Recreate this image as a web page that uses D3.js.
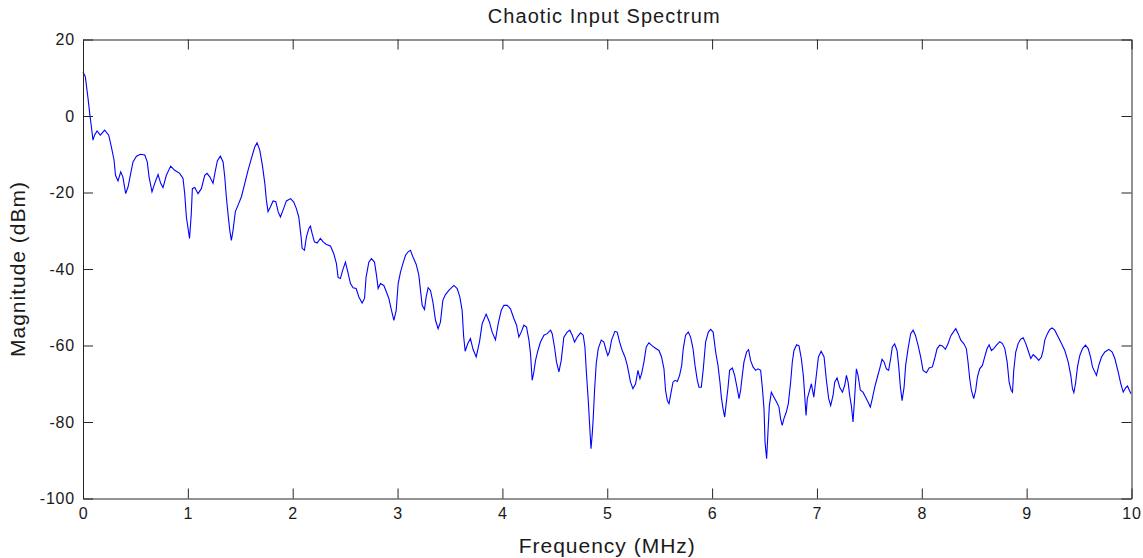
<!DOCTYPE html>
<html>
<head>
<meta charset="utf-8">
<script src="https://cdn.jsdelivr.net/npm/d3@7/dist/d3.min.js"></script>
<style>
  html, body { margin: 0; padding: 0; background: #fff; }
  svg { display: block; font-family: "Liberation Sans", Arial, sans-serif; }
</style>
</head>
<body>
<svg id="chart" width="1143" height="558"></svg>
<script>
// Spectrum samples: frequency (MHz) and magnitude (dBm)
const freqMHz = [
  0, 0.022, 0.048, 0.064, 0.08, 0.095, 0.11, 0.134, 0.165, 0.207, 0.245, 0.27, 0.296, 0.31, 0.334, 0.36, 0.38, 0.407, 0.43, 0.455,
  0.477, 0.51, 0.547, 0.589, 0.613, 0.63, 0.658, 0.684, 0.716, 0.741, 0.763, 0.795, 0.836, 0.875, 0.922, 0.954, 0.97, 0.986, 1.016, 1.033,
  1.043, 1.066, 1.097, 1.129, 1.161, 1.183, 1.209, 1.24, 1.263, 1.282, 1.31, 1.336, 1.352, 1.367, 1.384, 1.4, 1.415, 1.431, 1.453, 1.479,
  1.511, 1.543, 1.574, 1.606, 1.638, 1.66, 1.686, 1.711, 1.734, 1.749, 1.765, 1.787, 1.813, 1.839, 1.861, 1.883, 1.908, 1.94, 1.98, 2.01,
  2.035, 2.058, 2.08, 2.09, 2.112, 2.131, 2.154, 2.169, 2.185, 2.207, 2.233, 2.264, 2.29, 2.322, 2.36, 2.392, 2.417, 2.433, 2.455, 2.477,
  2.503, 2.526, 2.551, 2.576, 2.605, 2.631, 2.662, 2.685, 2.7, 2.726, 2.751, 2.78, 2.799, 2.815, 2.837, 2.869, 2.894, 2.917, 2.939, 2.965,
  2.987, 3.006, 3.028, 3.051, 3.076, 3.101, 3.123, 3.146, 3.178, 3.203, 3.219, 3.235, 3.257, 3.273, 3.292, 3.314, 3.337, 3.362, 3.387, 3.409,
  3.432, 3.457, 3.489, 3.537, 3.569, 3.594, 3.616, 3.63, 3.645, 3.67, 3.695, 3.72, 3.75, 3.782, 3.807, 3.845, 3.877, 3.902, 3.934, 3.96,
  3.989, 4.014, 4.046, 4.077, 4.11, 4.135, 4.157, 4.179, 4.205, 4.23, 4.253, 4.268, 4.284, 4.3, 4.316, 4.339, 4.363, 4.396, 4.427, 4.459,
  4.475, 4.497, 4.516, 4.539, 4.561, 4.586, 4.618, 4.643, 4.666, 4.688, 4.714, 4.745, 4.771, 4.787, 4.802, 4.819, 4.835, 4.845, 4.857, 4.866,
  4.879, 4.895, 4.914, 4.943, 4.968, 4.99, 5.005, 5.02, 5.041, 5.073, 5.095, 5.118, 5.143, 5.169, 5.191, 5.207, 5.222, 5.245, 5.27, 5.293,
  5.312, 5.327, 5.35, 5.372, 5.397, 5.429, 5.46, 5.493, 5.518, 5.541, 5.556, 5.573, 5.589, 5.604, 5.627, 5.646, 5.668, 5.69, 5.71, 5.725,
  5.747, 5.773, 5.795, 5.818, 5.837, 5.859, 5.875, 5.897, 5.916, 5.938, 5.964, 5.986, 6.01, 6.034, 6.056, 6.075, 6.088, 6.104, 6.12, 6.136,
  6.152, 6.167, 6.193, 6.215, 6.234, 6.257, 6.272, 6.288, 6.304, 6.329, 6.348, 6.367, 6.39, 6.415, 6.438, 6.463, 6.479, 6.495, 6.505, 6.52,
  6.533, 6.546, 6.565, 6.59, 6.615, 6.638, 6.653, 6.669, 6.685, 6.708, 6.727, 6.749, 6.765, 6.781, 6.806, 6.829, 6.851, 6.87, 6.883, 6.896,
  6.908, 6.925, 6.947, 6.97, 6.992, 7.014, 7.04, 7.068, 7.09, 7.112, 7.131, 7.154, 7.169, 7.192, 7.217, 7.243, 7.265, 7.281, 7.297, 7.312,
  7.328, 7.344, 7.359, 7.376, 7.392, 7.414, 7.439, 7.464, 7.487, 7.509, 7.528, 7.551, 7.576, 7.598, 7.621, 7.64, 7.662, 7.684, 7.703, 7.719,
  7.741, 7.764, 7.779, 7.796, 7.812, 7.831, 7.846, 7.869, 7.894, 7.917, 7.939, 7.964, 7.989, 8.012, 8.044, 8.07, 8.101, 8.123, 8.146, 8.171,
  8.197, 8.225, 8.251, 8.276, 8.305, 8.324, 8.347, 8.372, 8.4, 8.425, 8.441, 8.457, 8.473, 8.495, 8.514, 8.53, 8.552, 8.578, 8.6, 8.623,
  8.642, 8.664, 8.686, 8.712, 8.744, 8.769, 8.792, 8.814, 8.833, 8.852, 8.865, 8.877, 8.896, 8.919, 8.941, 8.967, 8.992, 9.014, 9.039, 9.062,
  9.087, 9.115, 9.141, 9.157, 9.173, 9.198, 9.221, 9.243, 9.268, 9.301, 9.332, 9.364, 9.396, 9.421, 9.437, 9.45, 9.466, 9.485, 9.507, 9.533,
  9.561, 9.587, 9.609, 9.628, 9.65, 9.666, 9.688, 9.714, 9.746, 9.784, 9.816, 9.841, 9.873, 9.898, 9.921, 9.943, 9.962, 9.979, 9.995
];
const magnitudeDbm = [
  11.5, 10.3, 4.6, 0.7, -2.8, -6.3, -5, -3.9, -5, -3.7, -5, -8, -11.5, -15.5, -17, -14.6, -15.9, -20.3, -18.5, -15,
  -12, -10.5, -10, -10.2, -12, -15.9, -19.8, -17.6, -15.3, -17.6, -18.7, -15.5, -13.1, -14.2, -15, -16.3, -20.3, -26.4, -32, -25.5,
  -19, -18.7, -20.3, -19, -15.5, -15, -15.9, -17.6, -14.2, -11.7, -10.5, -12, -15.9, -21.1, -25.9, -29.9, -32.5, -29.9, -25, -23.3,
  -21.1, -17.6, -14.2, -11.1, -8.1, -7, -8.9, -12.9, -17.6, -22, -25, -23.8, -22.2, -22.4, -25, -26.4, -24.6, -22.2, -21.6, -22.5,
  -24.2, -26.4, -31.6, -34.6, -35.1, -31.6, -29.4, -28.8, -30.7, -32.9, -33.2, -32, -32.9, -33.6, -34, -36, -38.6, -42.2, -42.5, -40.3,
  -38.2, -40.8, -43.8, -44.9, -45.1, -47.3, -48.9, -47.7, -42.1, -38.2, -37.3, -38.2, -41.6, -45.1, -43.8, -44.3, -46, -47.7, -50.4, -53.4,
  -50.8, -43.8, -40.8, -38.6, -36.4, -35.5, -35.1, -36.8, -38.8, -41.6, -45.6, -49.5, -50.6, -47.3, -44.9, -45.6, -48.6, -53.4, -55.6, -53.9,
  -48.2, -46.7, -45.6, -44.3, -45.1, -47.3, -50.8, -57.5, -61.5, -59.5, -58.2, -61, -63, -59, -54.3, -51.8, -53.9, -56.5, -58.5, -54.3,
  -50.8, -49.5, -49.5, -50.4, -53, -54.7, -57.8, -56.5, -54.7, -55.2, -58.6, -62.1, -69.1, -66.9, -63.9, -61.3, -59.1, -57.3, -56.9, -56,
  -56.9, -60.4, -64.3, -66.9, -63.9, -57.8, -56.5, -56, -57.3, -59.1, -57.8, -56.7, -57.3, -60.4, -67.4, -74.4, -82.2, -87, -83.1, -79.1,
  -71.7, -64.7, -60.8, -58.6, -59.1, -61.3, -62.6, -61.7, -58.6, -56.3, -56.5, -59.1, -61.3, -63, -65.2, -67.4, -69.6, -71.3, -70, -66.5,
  -68.7, -67.4, -64.3, -60.4, -59.3, -60.1, -60.7, -61.3, -63, -66.1, -71.7, -74.4, -75.2, -73, -69.6, -69.1, -69.4, -67.8, -65.2, -60.8,
  -57.3, -56.5, -57.8, -60.8, -65.2, -69.1, -70.9, -70.9, -66.1, -59.1, -56.5, -55.8, -56.5, -61.7, -65.2, -69.6, -73.5, -76.5, -78.7, -74.8,
  -70.9, -66.5, -65.9, -67.8, -70.4, -73.9, -71.7, -67.8, -64.3, -61.7, -61.1, -63.9, -65.6, -66.5, -66.1, -66.5, -70.9, -76.5, -85.3, -89.6,
  -82.6, -75.7, -72.2, -73.5, -74.8, -76.1, -79.1, -80.9, -79.1, -77.4, -75.2, -69.6, -64.3, -61.3, -59.8, -60.1, -63.4, -67.8, -73, -78.3,
  -73.9, -72.2, -70, -73.5, -68.3, -63, -61.5, -63, -69.1, -73.9, -75.7, -73, -69.6, -68.5, -70.9, -72.2, -70.4, -67.8, -69.6, -73,
  -75.7, -80, -73.9, -66.1, -67.8, -71.7, -72.2, -73.5, -74.8, -76.1, -73.9, -70.9, -68.3, -66.1, -63.6, -64.3, -66.1, -66.5, -63.4, -60.4,
  -59.6, -61.3, -65.2, -70.9, -74.4, -70.9, -65.2, -60.8, -56.9, -56, -57.3, -59.9, -63, -66.5, -67.1, -65.9, -65.6, -63.4, -60.8, -59.9,
  -60.1, -61, -59.5, -57.5, -56.3, -55.6, -56.9, -58.6, -59.5, -60.8, -64.3, -68.7, -71.7, -73.9, -71.7, -68.3, -66.1, -65.2, -63, -60.8,
  -59.8, -61.3, -60.8, -59.9, -59, -59.5, -60.8, -64.3, -69.6, -71.7, -72.2, -66.5, -61.7, -59.5, -58.4, -58, -59.5, -61.3, -63.4, -62.4,
  -63, -63.9, -63, -61.3, -58.6, -56.9, -55.8, -55.4, -56, -57.8, -59.5, -61.3, -64.3, -67.8, -71.3, -72.3, -70, -65.6, -62.6, -60.8,
  -59.9, -60.8, -63, -65.6, -66.9, -67.8, -65.2, -63, -61.7, -61, -61.7, -63.4, -66.9, -70, -72.2, -71.1, -70.6, -71.7, -72.6
];

// Axis ticks and labels
const xTicks = [0, 1, 2, 3, 4, 5, 6, 7, 8, 9, 10];
const yTicks = [20, 0, -20, -40, -60, -80, -100];
const titleText = "Chaotic Input Spectrum";
const xLabelText = "Frequency (MHz)";
const yLabelText = "Magnitude (dBm)";

const W = 1143, H = 558;
const margin = { top: 39.5, right: 11.5, bottom: 59.5, left: 83 };
const innerW = W - margin.left - margin.right;
const innerH = H - margin.top - margin.bottom;
const tickLen = 10;
const axisColor = "#262626";
const textColor = "#1a1a1a";

const svg = d3.select("#chart");
const g = svg.append("g").attr("transform", `translate(${margin.left},${margin.top})`);

const x = d3.scaleLinear().domain([0, 10]).range([0, innerW]);
const y = d3.scaleLinear().domain([-100, 20]).range([innerH, 0]);

// Spectrum trace
const points = freqMHz.map((f, i) => [f, magnitudeDbm[i]]);
g.append("path")
  .datum(points)
  .attr("fill", "none")
  .attr("stroke", "#0000ff")
  .attr("stroke-width", 1.1)
  .attr("d", d3.line().x(d => x(d[0])).y(d => y(d[1])));

// Plain hyphen-minus labels
const plain = d => String(d);

// Axes with inward ticks on all four sides
function styleAxis(sel) {
  sel.selectAll("path").attr("stroke", axisColor).attr("stroke-width", 1);
  sel.selectAll("line").attr("stroke", axisColor).attr("stroke-width", 1);
  sel.selectAll("text").attr("fill", textColor).attr("font-size", 16)
    .attr("letter-spacing", 0.8);
}

const xBottom = g.append("g").attr("transform", `translate(0,${innerH})`)
  .call(d3.axisBottom(x).tickValues(xTicks).tickFormat(plain)
    .tickSizeInner(-tickLen).tickSizeOuter(0).tickPadding(9));
styleAxis(xBottom);

const xTop = g.append("g")
  .call(d3.axisTop(x).tickValues(xTicks).tickFormat("")
    .tickSizeInner(-tickLen).tickSizeOuter(0));
styleAxis(xTop);

const yLeft = g.append("g")
  .call(d3.axisLeft(y).tickValues(yTicks).tickFormat(plain)
    .tickSizeInner(-tickLen).tickSizeOuter(0).tickPadding(8));
styleAxis(yLeft);

const yRight = g.append("g").attr("transform", `translate(${innerW},0)`)
  .call(d3.axisRight(y).tickValues(yTicks).tickFormat("")
    .tickSizeInner(-tickLen).tickSizeOuter(0));
styleAxis(yRight);

// Title and axis labels
svg.append("text")
  .attr("x", margin.left + innerW / 2 - 3).attr("y", 23)
  .attr("text-anchor", "middle").attr("font-size", 20).attr("letter-spacing", 1.1)
  .attr("fill", textColor)
  .text(titleText);

svg.append("text")
  .attr("x", margin.left + innerW / 2).attr("y", 553)
  .attr("text-anchor", "middle").attr("font-size", 21).attr("letter-spacing", 1)
  .attr("fill", textColor)
  .text(xLabelText);

svg.append("text")
  .attr("transform", `translate(25,${margin.top + innerH / 2}) rotate(-90)`)
  .attr("text-anchor", "middle").attr("font-size", 21).attr("letter-spacing", 1)
  .attr("fill", textColor)
  .text(yLabelText);
</script>
</body>
</html>
